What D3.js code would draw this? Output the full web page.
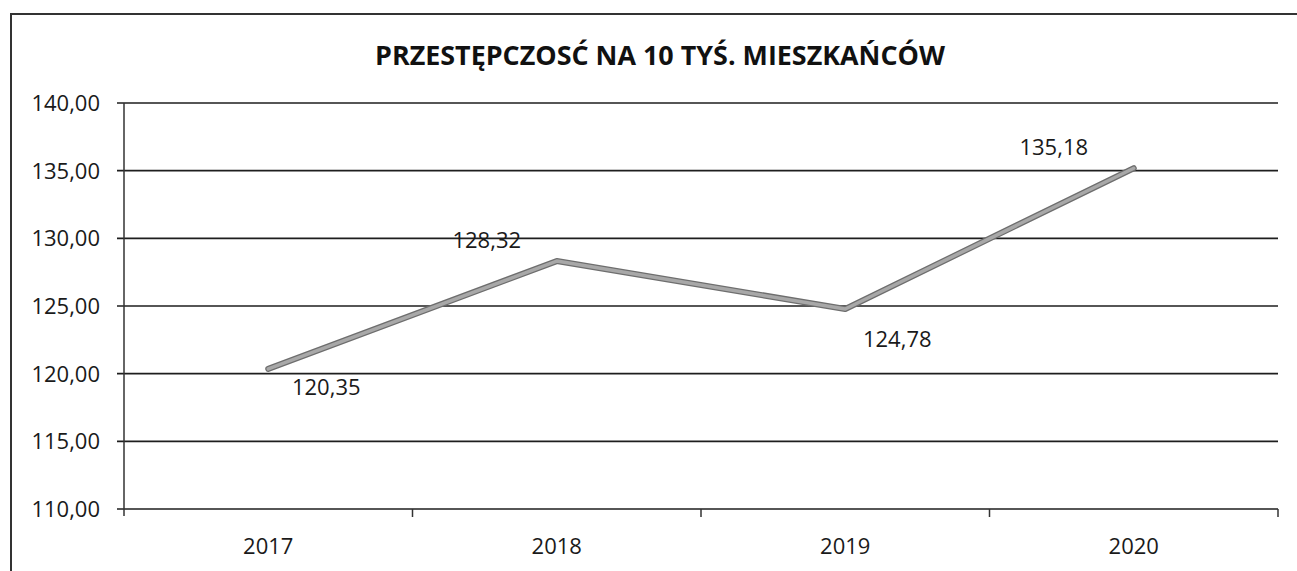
<!DOCTYPE html>
<html>
<head>
  <script src="https://d3js.org/d3.v7.min.js"></script>
  <style>
    body {
  margin: 0;
  background-color: #ffffff;
  font-family: 'Open Sans', sans-serif;
}

svg {
  display: block;
}

.grid line {
  stroke: #1e1e1e;
  stroke-width: 1.6px;
}

.axis text {
  fill: #1a1a1a;
  font-size: 22px;
}

.title {
  font-weight: bold;
  fill: #111;
}

.value-label {
  fill: #1a1a1a;
  font-size: 22px;
  text-anchor: middle;
}
  </style>
</head>
<body>

<script>
// Chart values.
const years = ["2017", "2018", "2019", "2020"];
const crimeRate = [120.35, 128.32, 124.78, 135.18];
const yTicks = [110, 115, 120, 125, 130, 135, 140];

// Label placement around each point (dx, dy), as in the original.
const labelOffsets = [[58, 26], [-70, -13], [52, 38], [-80, -13]];

const width = 1297;
const height = 571;
const margin = { top: 103, right: 19, bottom: 62, left: 124 };

const svg = d3.select("body")
  .append("svg")
  .attr("width", width)
  .attr("height", height);

// Outer frame of the scanned chart (top and left edges only are visible).
svg.append("path")
  .attr("d", `M11,${height} L11,14 L${width},14`)
  .attr("fill", "none")
  .attr("stroke", "#333")
  .attr("stroke-width", 2);

svg.append("text")
  .attr("class", "title")
  .attr("x", 660)
  .attr("y", 65)
  .attr("text-anchor", "middle")
  .attr("font-size", "26px")
  .attr("textLength", 570)
  .attr("lengthAdjust", "spacingAndGlyphs")
  .text("PRZESTĘPCZOSĆ NA 10 TYŚ. MIESZKAŃCÓW");

const x = d3.scaleBand()
  .domain(years)
  .range([margin.left, width - margin.right]);

const y = d3.scaleLinear()
  .domain([110, 140])
  .range([height - margin.bottom, margin.top]);

const fmt = d => d.toFixed(2).replace(".", ",");

// Horizontal gridlines with the small ticks left of the axis.
svg.append("g")
  .attr("class", "grid")
  .selectAll("line")
  .data(yTicks)
  .join("line")
  .attr("x1", margin.left - 7)
  .attr("x2", width - margin.right)
  .attr("y1", d => y(d))
  .attr("y2", d => y(d));

// Y axis labels.
svg.append("g")
  .attr("class", "axis")
  .selectAll("text")
  .data(yTicks)
  .join("text")
  .attr("x", margin.left - 24)
  .attr("y", d => y(d) + 8)
  .attr("text-anchor", "end")
  .text(fmt);

// Vertical axis line.
svg.append("line")
  .attr("x1", margin.left)
  .attr("x2", margin.left)
  .attr("y1", y(140))
  .attr("y2", y(110) + 7)
  .attr("stroke", "#333")
  .attr("stroke-width", 1.5);

// X axis ticks at category boundaries.
const boundaries = years.map(d => x(d)).concat([x.range()[1]]);
svg.append("g")
  .selectAll("line")
  .data(boundaries.slice(1))
  .join("line")
  .attr("x1", d => d)
  .attr("x2", d => d)
  .attr("y1", y(110))
  .attr("y2", y(110) + 8)
  .attr("stroke", "#333")
  .attr("stroke-width", 1.5);

svg.append("g")
  .attr("class", "axis")
  .selectAll("text")
  .data(years)
  .join("text")
  .attr("x", d => x(d) + x.bandwidth() / 2)
  .attr("y", 554)
  .attr("text-anchor", "middle")
  .text(d => d);

// The data line: darker edge with lighter grey core.
const line = d3.line()
  .x((d, i) => x(years[i]) + x.bandwidth() / 2)
  .y(d => y(d));

svg.append("path")
  .datum(crimeRate)
  .attr("d", line)
  .attr("fill", "none")
  .attr("stroke", "#6e6e6e")
  .attr("stroke-width", 6)
  .attr("stroke-linecap", "round")
  .attr("stroke-linejoin", "round");

svg.append("path")
  .datum(crimeRate)
  .attr("d", line)
  .attr("fill", "none")
  .attr("stroke", "#a8a8a8")
  .attr("stroke-width", 3.5)
  .attr("stroke-linecap", "round")
  .attr("stroke-linejoin", "round");

// Value labels.
svg.append("g")
  .selectAll("text")
  .data(crimeRate)
  .join("text")
  .attr("class", "value-label")
  .attr("x", (d, i) => x(years[i]) + x.bandwidth() / 2 + labelOffsets[i][0])
  .attr("y", (d, i) => y(d) + labelOffsets[i][1])
  .text(fmt);
</script>
</body>
</html>
